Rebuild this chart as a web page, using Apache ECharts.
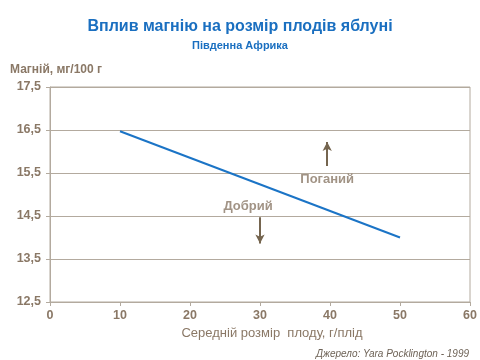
<!DOCTYPE html>
<html><head><meta charset="utf-8">
<script src="https://cdn.jsdelivr.net/npm/echarts@6/dist/echarts.min.js"></script>
<style>html,body{margin:0;padding:0;background:#fff}#c{width:480px;height:360px}</style>
</head><body><div id="c"></div>
<script>
var xValues = [10, 50];
var magnesium = [16.47, 14.0];
var xTicks = [0, 10, 20, 30, 40, 50, 60];
var yTicks = [12.5, 13.5, 14.5, 15.5, 16.5, 17.5];
var annotations = [[39.6, 15.36, 'Поганий'], [28.3, 14.73, 'Добрий']];
var arrowUp = [[39.6, 15.66], [39.6, 16.22]];
var arrowDown = [[30, 14.47], [30, 13.86]];

var textCol = '#8a7866';
var arrowCol = '#75654f';
var gridCol = '#b3aa9e';
var chart = echarts.init(document.getElementById('c'));
chart.setOption({
  animation: false,
  title: [
    {text: 'Вплив магнію на розмір плодів яблуні', left: 'center', top: 14,
     textStyle: {fontFamily: 'Liberation Sans', fontSize: 16, fontWeight: 'bold', color: '#1a6fc0'}},
    {text: 'Південна Африка', left: 'center', top: 35,
     textStyle: {fontFamily: 'Liberation Sans', fontSize: 11, fontWeight: 'bold', color: '#1a6fc0'}},
    {text: 'Магній, мг/100 г', left: 5, top: 59,
     textStyle: {fontFamily: 'Liberation Sans', fontSize: 12, fontWeight: 'bold', color: textCol}},
    {text: 'Джерело: Yara Pocklington - 1999', right: 6, top: 344,
     textStyle: {fontFamily: 'Liberation Sans', fontSize: 10, fontStyle: 'italic', fontWeight: 'normal', color: '#6e6357'}}
  ],
  grid: {left: 50, right: 10, top: 87, bottom: 58, show: true, borderColor: gridCol, borderWidth: 1, containLabel: false},
  xAxis: {
    type: 'value', min: xTicks[0], max: xTicks[xTicks.length - 1], interval: 10,
    name: 'Середній розмір  плоду, г/плід', nameLocation: 'middle', nameGap: 25,
    nameTextStyle: {fontFamily: 'Liberation Sans', fontSize: 13, color: textCol, padding: [0, 0, 0, 24]},
    axisLine: {show: true, lineStyle: {color: gridCol}},
    axisTick: {show: true, length: 4, lineStyle: {color: gridCol}},
    axisLabel: {fontFamily: 'Liberation Sans', fontSize: 12.5, fontWeight: 'bold', color: textCol, margin: 7},
    splitLine: {show: false}
  },
  yAxis: {
    type: 'value', min: yTicks[0], max: yTicks[yTicks.length - 1], interval: 1,
    axisLine: {show: true, lineStyle: {color: gridCol}},
    axisTick: {show: true, length: 4, lineStyle: {color: gridCol}},
    axisLabel: {fontFamily: 'Liberation Sans', fontSize: 12.5, fontWeight: 'bold', color: textCol, margin: 9,
      formatter: function (v) { return v.toFixed(1).replace('.', ','); }},
    splitLine: {show: true, lineStyle: {color: gridCol, width: 1}}
  },
  series: [
    {type: 'line', data: xValues.map(function (x, i) { return [x, magnesium[i]]; }),
     symbol: 'none', lineStyle: {color: '#1b74c6', width: 2},
     markLine: {silent: true, symbol: ['none', 'arrow'], symbolSize: [7, 9], label: {show: false},
       lineStyle: {color: arrowCol, width: 2, type: 'solid'},
       data: [
         [{coord: arrowUp[0]}, {coord: arrowUp[1]}],
         [{coord: arrowDown[0]}, {coord: arrowDown[1]}]
       ]}
    },
    {type: 'scatter', data: annotations, symbolSize: 0,
     label: {show: true, position: 'inside', formatter: function (p) { return p.data[2]; },
       fontFamily: 'Liberation Sans', fontSize: 13, fontWeight: 'bold', color: textCol}}
  ]
});
</script></body></html>
